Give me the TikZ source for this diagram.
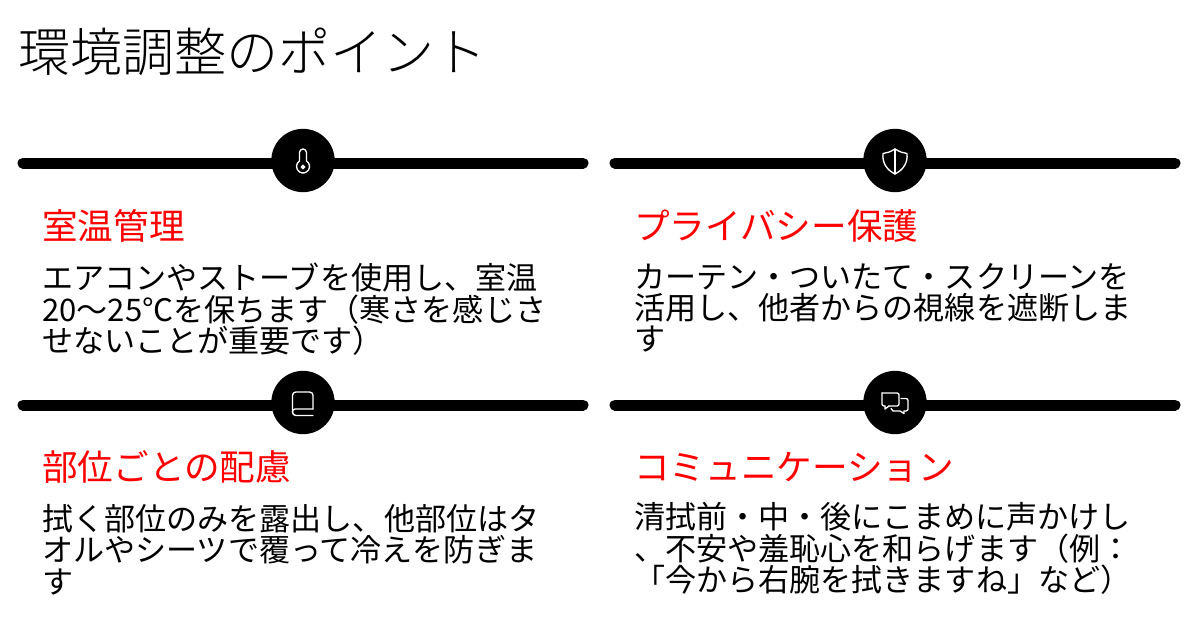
\documentclass[tikz,border=0pt]{standalone}
\usepackage{fontspec}
\setmainfont{Noto Sans CJK JP}
\newfontfamily\titlefont{Noto Sans CJK JP}[UprightFont=* Light]
\usetikzlibrary{positioning}
\tikzset{%
  bar/.style={line width=8.25pt,line cap=round},
  badge/.style={circle,fill=black,inner sep=0pt,minimum size=47.5pt},
  glyph/.style={white,line width=1pt,line join=round,line cap=round},
  pagetitle/.style={anchor=west,inner sep=0pt,font=\titlefont\fontsize{39}{39}\selectfont},
  heading/.style={anchor=west,inner sep=0pt,text=red,font=\fontsize{26.7}{30}\selectfont},
  body/.style={anchor=north west,inner sep=0pt,align=left,font=\fontsize{23.3}{23.6}\selectfont},
}
\definecolor{red}{HTML}{FF0000}

\begin{document}
\begin{tikzpicture}[x=0.75pt,y=-0.75pt,node distance=15pt]
  \useasboundingbox (0,0) rectangle (1200,639);

  \node[pagetitle] (title) at (18,52) {環境調整のポイント};

  % bars with their badges
  \coordinate (roomL) at (23,163);
  \coordinate (roomR) at (583,163);
  \coordinate (privacyL) at (615,163);
  \coordinate (privacyR) at (1175,163);
  \coordinate (partsL) at (23,405);
  \coordinate (partsR) at (583,405);
  \coordinate (talkL) at (615,405);
  \coordinate (talkR) at (1175,405);
  \draw[bar] (roomL) -- (roomR);
  \draw[bar] (privacyL) -- (privacyR);
  \draw[bar] (partsL) -- (partsR);
  \draw[bar] (talkL) -- (talkR);
  \node[badge] (roomBadge) at (303,160.5) {};
  \node[badge] (privacyBadge) at (895,160.5) {};
  \node[badge] (partsBadge) at (303,402.5) {};
  \node[badge] (talkBadge) at (895,402.5) {};

  % thermometer
  \draw[glyph] (299.5,161) -- (299.5,152.5) arc (180:360:3.5) -- (306.5,161)
    arc (-57.5:237.5:6.5) -- cycle;
  \draw[glyph,fill=white] (303,167) circle (1.8);
  % shield
  \draw[glyph] (895,149) .. controls (890,152) and (887,153) .. (883,153.5)
    .. controls (882,163) and (887,170) .. (895,174)
    .. controls (903,170) and (908,163) .. (907,153.5)
    .. controls (903,153) and (900,152) .. (895,149) -- cycle;
  \draw[glyph] (895,149) -- (895,174);
  % book
  \draw[glyph,rounded corners=2.5pt] (313,409) -- (313,392) -- (292.5,392)
    -- (292.5,415.5) -- (313,415.5);
  \draw[glyph,rounded corners=2pt] (313,409) -- (292.5,409) -- (292.5,413);
  % speech bubbles
  \draw[glyph,rounded corners=1.5pt] (882,393) -- (899,393) -- (899,406)
    -- (889,406);
  \draw[glyph] (889,406) -- (885,409) -- (885,406);
  \draw[glyph,rounded corners=1.5pt] (885,406) -- (882,406) -- (882,393);
  \draw[glyph,rounded corners=1.5pt] (901,398.5) -- (908,398.5) -- (908,411)
    -- (904,411);
  \draw[glyph] (904,411) -- (904,413.5) -- (900,411) -- (893,411) -- (891,408.5);

  % cards
  \node[heading] (roomHead) at (42,226) {室温管理};
  \node[body,below=of roomHead.south west,anchor=north west] (roomText)
    {エアコンやストーブを使用し、室温\\20～25℃を保ちます（寒さを感じさ\\せないことが重要です）};
  \node[heading] (privacyHead) at (634,226) {プライバシー保護};
  \node[body,below=of privacyHead.south west,anchor=north west] (privacyText)
    {カーテン・ついたて・スクリーンを\\活用し、他者からの視線を遮断しま\\す};
  \node[heading] (partsHead) at (42,467) {部位ごとの配慮};
  \node[body,below=of partsHead.south west,anchor=north west] (partsText)
    {拭く部位のみを露出し、他部位はタ\\オルやシーツで覆って冷えを防ぎま\\す};
  \node[heading] (talkHead) at (634,467) {コミュニケーション};
  \node[body,below=of talkHead.south west,anchor=north west] (talkText)
    {清拭前・中・後にこまめに声かけし\\、不安や羞恥心を和らげます（例：\\「今から右腕を拭きますね」など）};
\end{tikzpicture}
\end{document}
